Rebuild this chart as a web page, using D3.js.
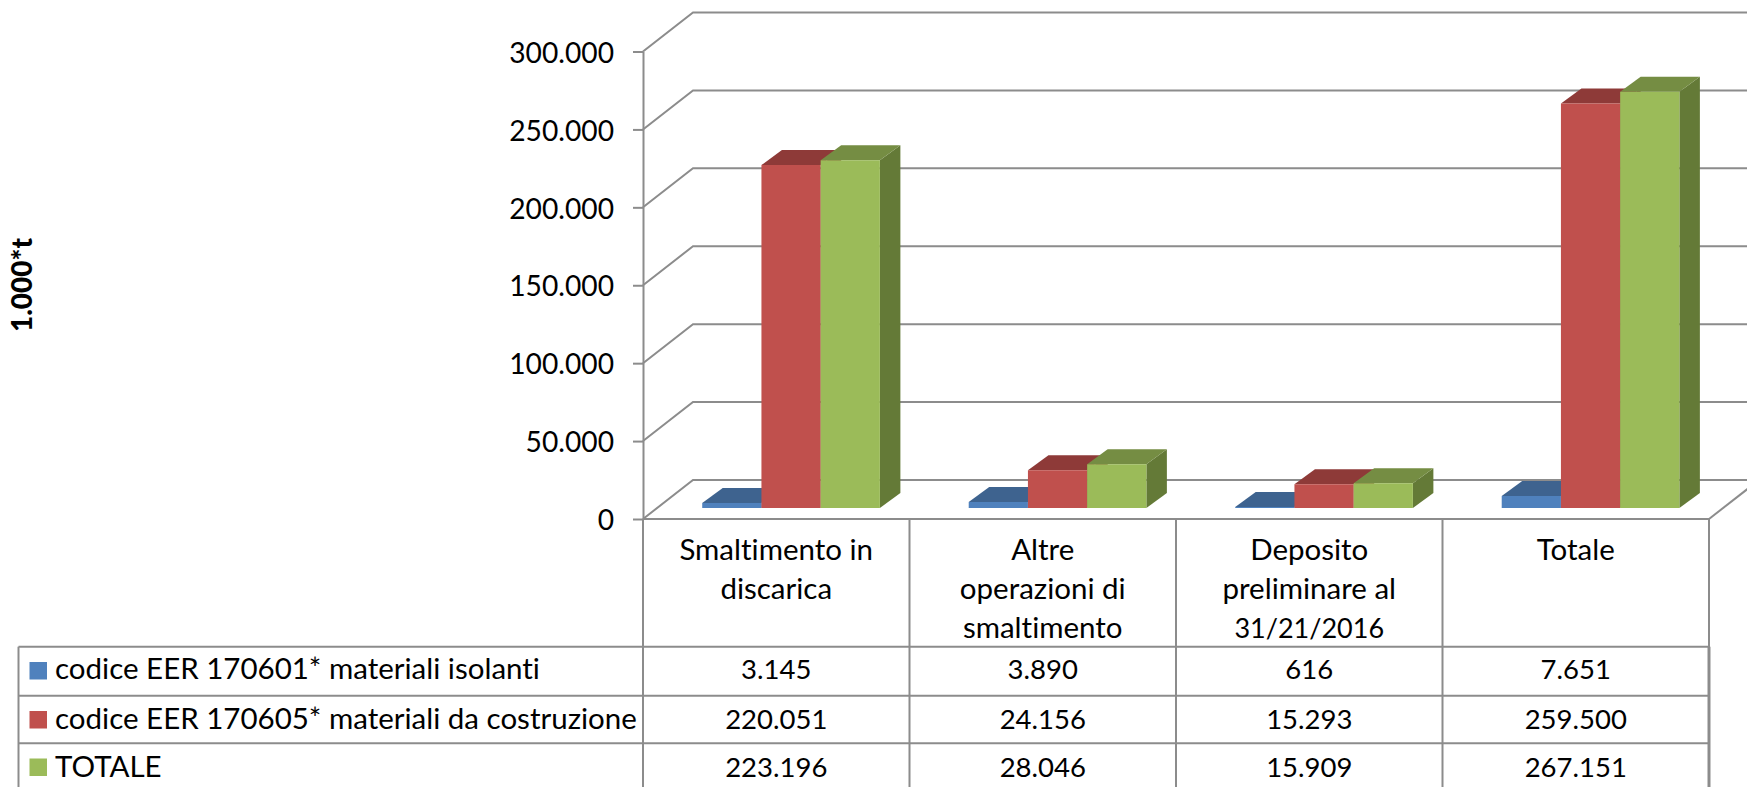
<!DOCTYPE html>
<html><head><meta charset="utf-8">
<script src="https://cdn.jsdelivr.net/npm/d3@7/dist/d3.min.js"></script>
<style>
html,body{margin:0;padding:0;background:#fff;overflow:hidden}
text{font-family:Lato,"Noto Sans",sans-serif;fill:#000;font-size:27.5px;font-variant-ligatures:none}
text.cat,text.leg{font-size:29.5px}
text.catnum{font-size:27px}
</style></head><body><svg id="c" width="1747" height="787"></svg>
<script>
const categories=[["Smaltimento in","discarica"],["Altre","operazioni di","smaltimento"],["Deposito","preliminare al","31/21/2016"],["Totale"]];
const seriesNames=["codice EER 170601* materiali isolanti","codice EER 170605* materiali da costruzione","TOTALE"];
const isolanti=[3145,3890,616,7651];
const costruzione=[220051,24156,15293,259500];
const totale=[223196,28046,15909,267151];
const seriesValues=[isolanti,costruzione,totale];
const yTicks=[0,50000,100000,150000,200000,250000,300000];
const yAxisTitle="1.000*t";
const frontColors=["#4F81BD","#C0504D","#9BBB59"];
const topColors=["#3E638F","#8E3A38","#758D43"];
const sideColors=["#385D8A","#7F3533","#647A37"];

const W=1747,H=787,GRID="#8c8c8c";
const svg=d3.select("#c");
const fmt=d3.formatLocale({decimal:",",thousands:".",grouping:[3],currency:["",""]}).format(",d");
const left=643,right=1709,y0=519,yTop=51.5;
const wallDx=50,wallDy=-39,barDx=20.5,barDy=-15,barShiftX=14.8,barShiftY=-11;
const rows=[646.7,695.7,743.3];
const idx=d3.range(categories.length);
const col=d3.scaleBand().domain(idx).range([left,right]);
const y=d3.scaleLinear().domain([0,300000]).range([y0,yTop]);
const bw=col.bandwidth();
const x1=d3.scaleBand().domain(d3.range(seriesNames.length)).range([bw/6,bw*5/6]);

// back wall and floor
const wall=svg.append("g").attr("fill","none").attr("stroke",GRID).attr("stroke-width",2);
yTicks.forEach(t=>{
  wall.append("path").attr("d",d3.line()([[left,y(t)],[left+wallDx,y(t)+wallDy],[W+5,y(t)+wallDy]]));
});
wall.append("line").attr("x1",right).attr("y1",y0).attr("x2",right+wallDx).attr("y2",y0+wallDy);

// bars
const poly=(g,pts,fill)=>g.append("polygon").attr("points",pts.map(p=>p.join(",")).join(" ")).attr("fill",fill);
idx.forEach(c=>{
  const g=svg.append("g");
  seriesValues.forEach((vals,s)=>{
    const xa=col(c)+x1(s)+barShiftX, xb=xa+x1.bandwidth();
    const yb=y(0)+barShiftY, yt=y(vals[c])+barShiftY;
    poly(g,[[xb,yt],[xb+barDx,yt+barDy],[xb+barDx,yb+barDy],[xb,yb]],sideColors[s]);
    poly(g,[[xa,yt],[xa+barDx,yt+barDy],[xb+barDx,yt+barDy],[xb,yt]],topColors[s]);
    poly(g,[[xa,yt],[xb,yt],[xb,yb],[xa,yb]],frontColors[s]);
  });
});

// value axis
const ax=svg.append("g").attr("transform",`translate(${left},0)`)
  .call(d3.axisLeft(y).tickValues(yTicks).tickFormat(fmt).tickSize(10).tickSizeOuter(0).tickPadding(19));
ax.selectAll("path,line").attr("stroke",GRID).attr("stroke-width",2);
ax.selectAll("text").attr("dy","0.38em").style("font-size","28.2px");
ax.attr("font-size",null).attr("font-family",null);

// data table
const tbl=svg.append("g").attr("stroke",GRID).attr("stroke-width",2);
tbl.append("line").attr("x1",left).attr("x2",right).attr("y1",y0).attr("y2",y0);
[...idx.map(c=>col(c)),right].forEach(x=>tbl.append("line").attr("x1",x).attr("x2",x).attr("y1",y0).attr("y2",H));
tbl.append("line").attr("x1",18.5).attr("x2",18.5).attr("y1",rows[0]).attr("y2",H);
tbl.append("line").attr("x1",right).attr("x2",right).attr("y1",rows[0]).attr("y2",H).attr("stroke-width",3);
rows.forEach(r=>tbl.append("line").attr("x1",18.5).attr("x2",right).attr("y1",r).attr("y2",r));

const catBase=560,lineH=39;
categories.forEach((lines,c)=>lines.forEach((l,i)=>{
  svg.append("text").attr("class",/\d/.test(l)?"catnum":"cat").attr("x",col(c)+bw/2).attr("y",catBase+i*lineH).attr("text-anchor","middle").text(l);
}));
const rowBase=[679,728.5,776.5];
seriesNames.forEach((n,s)=>{
  svg.append("rect").attr("x",29.5).attr("y",[662,711,758.5][s]).attr("width",17.5).attr("height",17.5).attr("fill",frontColors[s]);
  svg.append("text").attr("class","leg").attr("x",55).attr("y",rowBase[s]).text(n);
  seriesValues[s].forEach((v,c)=>{
    svg.append("text").attr("class","val").attr("x",col(c)+bw/2).attr("y",rowBase[s]).attr("text-anchor","middle").text(fmt(v));
  });
});

svg.append("text").attr("transform","translate(32,285) rotate(-90)").attr("text-anchor","middle")
  .style("font-weight","900").style("font-size","28px").text(yAxisTitle);
</script></body></html>
